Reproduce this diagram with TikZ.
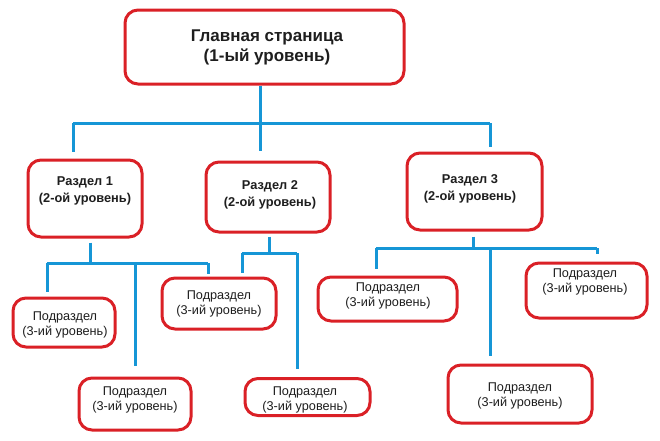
\documentclass[tikz,border=0pt]{standalone}
\usepackage{fontspec}
\setmainfont{Liberation Sans}
\definecolor{boxred}{RGB}{218,32,38}
\definecolor{lineblue}{RGB}{22,150,214}
\definecolor{txt}{RGB}{30,30,30}
\tikzset{
  box/.style={draw=boxred, line width=3pt, rounded corners=13pt, fill=white, inner sep=0pt},
  conn/.style={draw=lineblue, line width=3pt},
  tlevel1/.style={align=center, text=txt, font=\fontsize{17}{20}\selectfont\bfseries},
  tlevel2/.style={align=center, text=txt, font=\fontsize{12.8}{17}\selectfont\bfseries},
  tlevel3/.style={align=center, text=txt, font=\fontsize{12.7}{15}\selectfont},
}
\begin{document}
\begin{tikzpicture}[x=1pt,y=-1pt]
\useasboundingbox (0,0) rectangle (660,440);
% boxes
\node[box, minimum width=279pt, minimum height=74pt] (top) at (264.5,47) {};
\node[box, minimum width=114pt, minimum height=77pt] (r1) at (85,198.5) {};
\node[box, minimum width=124pt, minimum height=70pt] (r2) at (268,197) {};
\node[box, minimum width=135pt, minimum height=77pt] (r3) at (474.5,191.5) {};
\node[box, minimum width=102pt, minimum height=49pt] (l1) at (64,322.5) {};
\node[box, minimum width=112pt, minimum height=52pt] (l2) at (135,404) {};
\node[box, minimum width=114pt, minimum height=51pt] (l3) at (219,303.5) {};
\node[box, minimum width=125pt, minimum height=37pt] (l4) at (307.5,397) {};
\node[box, minimum width=139pt, minimum height=44pt] (l5) at (387.5,299) {};
\node[box, minimum width=121pt, minimum height=55pt] (l6) at (586.5,290.5) {};
\node[box, minimum width=144pt, minimum height=58pt] (l7) at (520,394) {};
% texts
\node[tlevel1] (ttop) at (267,47) {Главная страница\\(1-ый уровень)};
\node[tlevel2] (tr1) at (85,190.5) {Раздел 1\\(2-ой уровень)};
\node[tlevel2] (tr2) at (270,194.5) {Раздел 2\\(2-ой уровень)};
\node[tlevel2] (tr3) at (470,189) {Раздел 3\\(2-ой уровень)};
\node[tlevel3] (tl1) at (65,324.5) {Подраздел\\(3-ий уровень)};
\node[tlevel3] (tl2) at (135,399.5) {Подраздел\\(3-ий уровень)};
\node[tlevel3] (tl3) at (219,303.5) {Подраздел\\(3-ий уровень)};
\node[tlevel3] (tl4) at (305,399.5) {Подраздел\\(3-ий уровень)};
\node[tlevel3] (tl5) at (388,295.5) {Подраздел\\(3-ий уровень)};
\node[tlevel3] (tl6) at (585,281.5) {Подраздел\\(3-ий уровень)};
\node[tlevel3] (tl7) at (520,396) {Подраздел\\(3-ий уровень)};
% junction coordinates
\coordinate (h0) at (260,123);
\coordinate (h0l) at (73,123);
\coordinate (h0r) at (490,123);
\coordinate (h1) at (90,263);
\coordinate (h1l) at (47,263);
\coordinate (h1m) at (135,263);
\coordinate (h1r) at (208,263);
\coordinate (h2) at (269,253);
\coordinate (h2l) at (242,253);
\coordinate (h2r) at (297,253);
\coordinate (h3) at (473,248);
\coordinate (h3l) at (376,248);
\coordinate (h3m) at (490,248);
\coordinate (h3r) at (597,248);
% level 1 -> 2
\draw[conn] (top.south -| h0) -- (h0);
\draw[conn] (h0l) -- (h0r);
\draw[conn, shorten >=7pt] (h0l) -- (r1.north -| h0l);
\draw[conn, shorten >=10pt] (h0) -- (r2.north -| h0);
\draw[conn, shorten >=5pt] (h0r) -- (r3.north -| h0r);
% section 1
\draw[conn, shorten <=4pt] (r1.south -| h1) -- (h1);
\draw[conn] (h1l) -- (h1r);
\draw[conn, shorten >=5pt] (h1l) -- (l1.north -| h1l);
\draw[conn, shorten >=11pt] (h1m) -- (l2.north -| h1m);
\draw[conn, shorten >=3pt] (h1r) -- (l3.north -| h1r);
% section 2
\draw[conn, shorten <=3pt] (r2.south -| h2) -- (h2);
\draw[conn] (h2l) -- (h2r);
\draw[conn, shorten >=4pt] (h2l) -- (l3.north -| h2l);
\draw[conn, shorten >=8pt] (h2r) -- (l4.north -| h2r);
% section 3
\draw[conn, shorten <=5pt] (r3.south -| h3) -- (h3);
\draw[conn] (h3l) -- (h3r);
\draw[conn, shorten >=7pt] (h3l) -- (l5.north -| h3l);
\draw[conn, shorten >=8pt] (h3m) -- (l7.north -| h3m);
\draw[conn, shorten >=8pt] (h3r) -- (l6.north -| h3r);
\end{tikzpicture}
\end{document}
